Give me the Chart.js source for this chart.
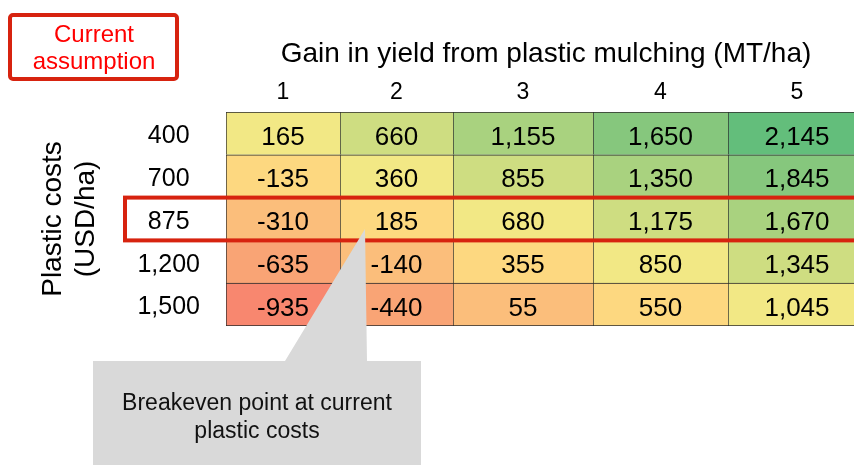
<!DOCTYPE html>
<html>
<head>
<meta charset="utf-8">
<script src="https://cdn.jsdelivr.net/npm/chart.js@4.4.1/dist/chart.umd.min.js"></script>
<style>
  html, body { margin: 0; padding: 0; background: #fff; overflow: hidden; }
  #wrap { position: relative; width: 866px; height: 465px; }
</style>
</head>
<body>
<div id="wrap"><canvas id="myChart"></canvas></div>
<script>
  // categories
  const yieldGains = ['1', '2', '3', '4', '5'];
  const plasticCosts = ['400', '700', '875', '1,200', '1,500'];

  // profit per yield gain column, rows follow plasticCosts
  const gain1 = [165, -135, -310, -635, -935];
  const gain2 = [660, 360, 185, -140, -440];
  const gain3 = [1155, 855, 680, 355, 55];
  const gain4 = [1650, 1350, 1175, 850, 550];
  const gain5 = [2145, 1845, 1670, 1345, 1045];

  const columns = [gain1, gain2, gain3, gain4, gain5];
  const currentRow = 2; // 875 USD/ha

  // table layout + shading (red -> yellow -> green along the diagonal)
  const colWidths = [114, 113, 140, 135, 138];
  const shades = ['#F8876F', '#F9A475', '#FBBE7B', '#FDD880', '#F2E885',
                  '#CEDD81', '#A9D27F', '#86C77D', '#63BE7B'];

  const colEdges = [0];
  colWidths.forEach(w => colEdges.push(colEdges[colEdges.length - 1] + w));
  const colCenters = colWidths.map((w, i) => colEdges[i] + w / 2);

  const FONT = "'Liberation Sans', Arial, sans-serif";
  Chart.defaults.font.family = FONT;
  Chart.defaults.color = '#000';

  const datasets = columns.map((vals, c) => ({
    label: yieldGains[c],
    data: vals.map(() => [colEdges[c], colEdges[c + 1]]),
    values: vals,
    backgroundColor: vals.map((v, r) => shades[c - r + 4]),
    borderColor: '#2b2b2b',
    borderWidth: (ctx) => ({ top: 1, left: 1, right: 0, bottom: ctx.dataIndex === vals.length - 1 ? 1 : 0 }),
    borderSkipped: false,
    grouped: false,
    barPercentage: 1,
    categoryPercentage: 1
  }));

  const cellLabels = {
    id: 'cellLabels',
    afterDatasetsDraw(chart) {
      const ctx = chart.ctx;
      ctx.save();
      ctx.font = '26px ' + FONT;
      ctx.fillStyle = '#000';
      ctx.textAlign = 'center';
      ctx.textBaseline = 'middle';
      chart.data.datasets.forEach((ds, i) => {
        chart.getDatasetMeta(i).data.forEach((bar, r) => {
          const p = bar.getCenterPoint();
          ctx.fillText(ds.values[r].toLocaleString('en-US'), p.x, p.y + 4);
        });
      });
      ctx.restore();
    }
  };

  const notes = {
    id: 'notes',
    afterDraw(chart) {
      const { ctx, chartArea, scales: { x, y } } = chart;
      const band = y.getPixelForValue(1) - y.getPixelForValue(0);
      const rowY = y.getPixelForValue(currentRow);
      ctx.save();

      // current assumption row frame
      ctx.strokeStyle = '#D7230F';
      ctx.lineWidth = 4;
      ctx.strokeRect(chartArea.left - 101, rowY - band / 2, chart.width, band);

      // "Current assumption" tag
      ctx.beginPath();
      ctx.roundRect(10, 15, 167, 64, 3);
      ctx.stroke();
      ctx.fillStyle = '#FF0000';
      ctx.font = '24px ' + FONT;
      ctx.textAlign = 'center';
      ctx.textBaseline = 'alphabetic';
      ctx.fillText('Current', 94, 42);
      ctx.fillText('assumption', 94, 69);

      // callout pointing at breakeven cell
      const tipX = x.getPixelForValue(colEdges[1]) + 25;
      const tipY = rowY + 10;
      const boxTop = chartArea.bottom + 35;
      ctx.fillStyle = '#D9D9D9';
      ctx.beginPath();
      ctx.moveTo(tipX - 272, boxTop);
      ctx.lineTo(tipX - 80, boxTop);
      ctx.lineTo(tipX, tipY);
      ctx.lineTo(tipX + 2, boxTop);
      ctx.lineTo(tipX + 56, boxTop);
      ctx.lineTo(tipX + 56, chart.height);
      ctx.lineTo(tipX - 272, chart.height);
      ctx.closePath();
      ctx.fill();
      ctx.fillStyle = '#111';
      ctx.font = '23px ' + FONT;
      ctx.textBaseline = 'middle';
      ctx.fillText('Breakeven point at current', tipX - 108, boxTop + 43);
      ctx.fillText('plastic costs', tipX - 108, boxTop + 71);
      ctx.restore();
    }
  };

  const ctx = document.getElementById('myChart').getContext('2d');
  const myChart = new Chart(ctx, {
    type: 'bar',
    data: {
      labels: plasticCosts,
      datasets: datasets
    },
    options: {
      indexAxis: 'y',
      responsive: true,
      maintainAspectRatio: false,
      animation: false,
      layout: { padding: { top: 30, left: 30, right: 0, bottom: 139 } },
      plugins: {
        legend: { display: false },
        tooltip: { enabled: false }
      },
      scales: {
        x: {
          type: 'linear',
          position: 'top',
          min: 0,
          max: colEdges[colEdges.length - 1],
          grid: { display: false, drawTicks: false },
          border: { display: false },
          afterBuildTicks: (axis) => { axis.ticks = colCenters.map(v => ({ value: v })); },
          afterFit: (axis) => { axis.height = 82; },
          ticks: {
            padding: 6,
            font: { size: 23 },
            color: '#000',
            maxRotation: 0,
            autoSkip: false,
            callback: (value, index) => yieldGains[index]
          },
          title: {
            display: true,
            text: 'Gain in yield from plastic mulching (MT/ha)',
            font: { size: 28 },
            color: '#000',
            padding: { top: 7, bottom: 0 }
          }
        },
        y: {
          type: 'category',
          grid: { display: false, drawTicks: false },
          border: { display: false },
          afterFit: (axis) => { axis.width = 196; },
          ticks: {
            padding: 26,
            crossAlign: 'center',
            labelOffset: 3,
            font: { size: 25 },
            color: '#000'
          },
          title: {
            display: true,
            text: ['Plastic costs', '(USD/ha)'],
            font: { size: 28 },
            color: '#000',
            padding: { top: 6, bottom: 0 }
          }
        }
      }
    },
    plugins: [cellLabels, notes]
  });
</script>
</body>
</html>
